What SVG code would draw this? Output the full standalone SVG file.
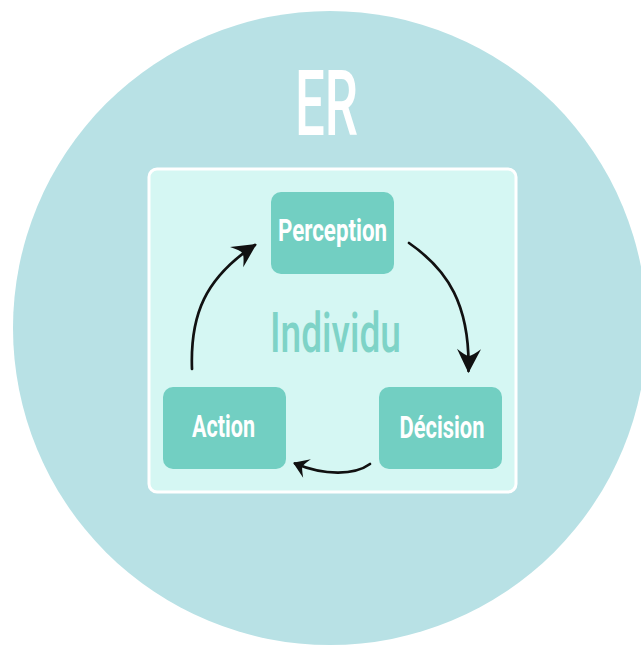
<svg xmlns="http://www.w3.org/2000/svg" width="641" height="648" viewBox="0 0 641 648">
  <style>
    .node { fill: #72cfc2; }
    .label { fill: #ffffff; font-family: Roboto, "Liberation Sans", sans-serif; font-weight: 700; font-size: 32px; }
    .conn { fill: none; stroke: #111111; stroke-width: 2.7; stroke-linecap: round; }
  </style>
  <defs>
    <marker id="headBig" markerUnits="userSpaceOnUse" viewBox="-30 -15 35 30" refX="0" refY="0" markerWidth="35" markerHeight="30" orient="auto" overflow="visible">
      <path d="M2,0 L-22,-12 Q-15,-3 -15,0 Q-15,3 -22,12 Z" fill="#111111"/>
    </marker>
    <marker id="headSmall" markerUnits="userSpaceOnUse" viewBox="-20 -12 25 24" refX="0" refY="0" markerWidth="25" markerHeight="24" orient="auto" overflow="visible">
      <path d="M2,0 L-13,-10 Q-8,-2 -8,0 Q-8,2 -13,10 Z" fill="#111111"/>
    </marker>
  </defs>

  <g id="background">
    <rect x="0" y="0" width="641" height="648" fill="#ffffff"/>
    <circle cx="330" cy="328" r="317" fill="#b8e1e5"/>
  </g>

  <g id="title">
    <text x="295" y="135" font-family="Roboto, 'Liberation Sans', sans-serif" font-weight="500" font-size="91" fill="#ffffff" textLength="63" lengthAdjust="spacingAndGlyphs">ER</text>
  </g>

  <g id="individu">
    <rect x="149" y="169" width="367" height="323" rx="8" ry="8" fill="#d5f7f3" stroke="#ffffff" stroke-width="3"/>
    <text x="270" y="352" font-family="Roboto, 'Liberation Sans', sans-serif" font-weight="500" font-size="55" fill="#7ed3c7" textLength="131" lengthAdjust="spacingAndGlyphs">Individu</text>
  </g>

  <g id="perception">
    <rect class="node" x="271" y="192" width="123" height="82" rx="10" ry="10"/>
    <text class="label" x="278" y="241" textLength="109" lengthAdjust="spacingAndGlyphs">Perception</text>
  </g>

  <g id="action">
    <rect class="node" x="163" y="387" width="123" height="82" rx="10" ry="10"/>
    <text class="label" x="192" y="437" textLength="63" lengthAdjust="spacingAndGlyphs">Action</text>
  </g>

  <g id="decision">
    <rect class="node" x="379" y="387" width="123" height="82" rx="10" ry="10"/>
    <text class="label" x="399.5" y="437.5" textLength="85" lengthAdjust="spacingAndGlyphs">Décision</text>
  </g>

  <g id="connectors">
    <path class="conn" d="M192,369 C190,315 205,278 255,245" marker-end="url(#headBig)"/>
    <path class="conn" d="M409,243 C448,270 470,305 468.5,371" marker-end="url(#headBig)"/>
    <path class="conn" d="M370,464 C355,475 325,476 295,463.5" marker-end="url(#headSmall)"/>
  </g>
</svg>
